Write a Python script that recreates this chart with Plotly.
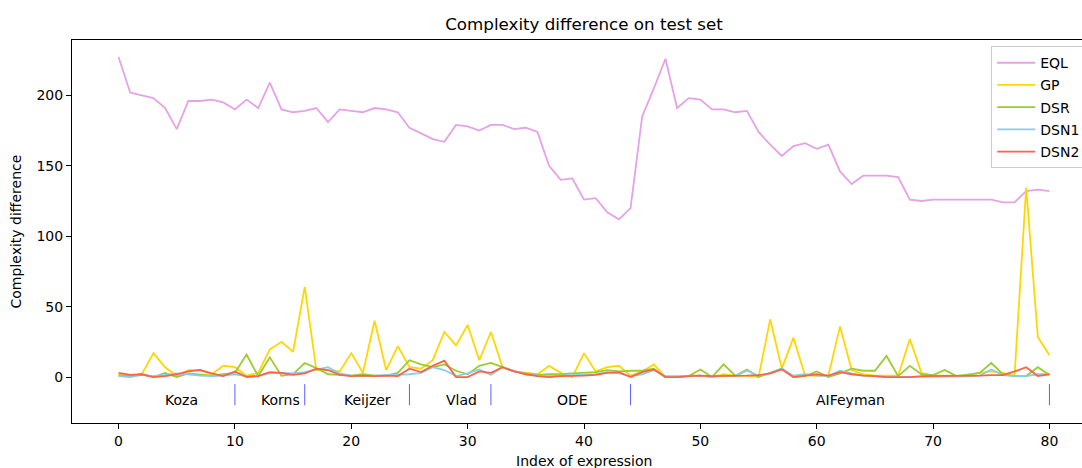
import plotly.graph_objects as go

idx = list(range(81))

eql = [227.2, 202, 200, 198, 191, 176, 196, 196, 197, 195,
       190, 197, 191, 209, 190, 188, 189, 191, 181, 190,
       189, 188, 191, 190, 188, 177, 173, 169, 167, 179,
       178, 175, 179, 179, 176, 177, 174, 150, 140, 141,
       126, 127, 117, 112, 120, 185, 205, 226, 191, 198,
       197, 190, 190, 188, 189, 174, 165, 157, 164, 166,
       162, 165, 146, 137, 143, 143, 143, 142, 126, 125,
       126, 126, 126, 126, 126, 126, 124, 124, 132, 133,
       132]

gp = [2, 1, 2, 17, 7, 1, 5, 5, 2, 8,
      7, 1, 3, 19.6, 25, 18, 64, 5, 5, 4,
      17, 3, 40, 5, 22, 7, 6, 12, 32, 22.5,
      37, 12, 32, 7, 4, 3, 2, 8, 3, 0,
      17, 4, 7, 8, 1, 4, 9, 0, 0, 1,
      1, 0, 2, 1, 1, 0, 41, 6, 28, 1,
      1, 1, 36, 5, 2, 1, 1, 1, 27, 3,
      1, 1, 1, 1, 3, 4, 3, 1, 134.5, 28.5,
      15.5]

dsr = [1.4, 0.7, 2, 0, 3, 0, 2.6, 1.6, 1, 2,
       3, 16, 0.7, 14, 1, 2, 10, 6.4, 2, 1.6,
       1, 2, 1, 1, 3, 12, 9, 7, 9, 4.5,
       2, 8, 10, 7, 4, 2.6, 1.6, 2, 2, 2.6,
       3, 3.5, 5, 4, 4.5, 4.5, 6, 0, 0, 0.7,
       5.4, 0, 9, 1, 5.4, 0, 3, 6, 0, 0.7,
       4, 0, 2.6, 6, 4.5, 4.5, 15, 0.7, 8, 2,
       1.4, 5, 0.7, 2, 3, 10, 2, 0.7, 0.7, 7,
       1.4]

dsn1 = [0.7, 0, 1.6, 0.7, 1.6, 2.6, 2, 1, 0.7, 1,
        2, 0.7, 1, 2.6, 3, 2.6, 3.5, 5.4, 7, 2.6,
        1, 0.7, 1, 1, 1.6, 2, 3, 7, 5, 0.7,
        2.6, 5.4, 1.6, 7, 4.5, 2, 1, 0.7, 1, 1.4,
        1.6, 2, 3.5, 2.6, 0.7, 2, 5, 0.7, 0.7, 1,
        1, 0, 1, 0.7, 4.5, 1, 2.6, 6, 1, 2,
        1, 0.7, 4.5, 2.6, 1, 0.7, 0, 0, 0, 0.5,
        0.5, 0.5, 0.5, 0.5, 1, 5.4, 1.4, 0.7, 0.7, 2,
        2]

dsn2 = [3, 1.6, 2, 0, 0.7, 2, 4, 5, 2.6, 0.7,
        4, 0, 0.7, 3.5, 3, 1.6, 2.6, 6, 5, 1.6,
        0.7, 1, 0.7, 1, 0.7, 6, 3.5, 8, 11.6, 0,
        0, 4, 3, 7, 4, 2, 0.7, 0, 0.7, 0.7,
        1, 1.6, 3, 3.5, 0, 3.5, 5.4, 0, 0, 0.7,
        1, 0.7, 0.7, 0.7, 1, 1.4, 2.6, 5.4, 0, 1,
        2, 1, 3.5, 2, 1, 0.7, 0, 0, 0, 0.7,
        0.7, 0.7, 0.7, 1, 1, 1.4, 1.4, 4, 7, 0.7,
        2]

series_names = ["EQL", "GP", "DSR", "DSN1", "DSN2"]
series_colors = ["#e6a2e6", "gold", "yellowgreen", "skyblue", "tomato"]

boundaries = [10, 16, 25, 32, 44, 80]
group_labels = ["Koza", "Korns", "Keijzer", "Vlad", "ODE", "AIFeyman"]
group_label_x = [5.4, 13.95, 21.4, 29.45, 39.0, 62.9]
marker_low, marker_high = -20, -5
label_y = -16.3

yticks = [0, 50, 100, 150, 200]
xticks = [0, 10, 20, 30, 40, 50, 60, 70, 80]

FONT = "DejaVu Sans"

fig = go.Figure()
for i, (name, vals, col) in enumerate(zip(series_names, [eql, gp, dsr, dsn1, dsn2], series_colors)):
    fig.add_trace(go.Scatter(x=idx, y=vals, mode="lines", name=name,
                             line=dict(color=col, width=1.8),
                             legendgroup=name))

# group boundary markers
vx, vy = [], []
for b in boundaries:
    vx += [b, b, None]
    vy += [marker_low, marker_high, None]
fig.add_trace(go.Scatter(x=vx, y=vy, mode="lines", showlegend=False,
                         line=dict(color="rgba(40,40,255,0.75)", width=1),
                         hoverinfo="skip"))

annotations = []
for lab, lx in zip(group_labels, group_label_x):
    annotations.append(dict(x=lx, y=label_y, xref="x", yref="y", text=lab,
                            showarrow=False, xanchor="center", yanchor="middle",
                            font=dict(family=FONT, size=14, color="black")))

annotations.append(dict(x=0.5, y=-0.1002, xref="paper", yref="paper",
                        text="Index of expression", showarrow=False,
                        xanchor="center", yanchor="middle",
                        font=dict(family=FONT, size=14, color="black")))
annotations.append(dict(x=-0.0547, y=0.5, xref="paper", yref="paper",
                        text="Complexity difference", showarrow=False, textangle=-90,
                        xanchor="center", yanchor="middle",
                        font=dict(family=FONT, size=14, color="black")))

fig.update_layout(
    width=1100, height=468,
    margin=dict(l=72, r=3.5, t=40, b=44.7),
    paper_bgcolor="white", plot_bgcolor="white",
    font=dict(family=FONT, size=14, color="black"),
    title=dict(text="Complexity difference on test set", x=0.5, xref="paper",
               xanchor="center", y=1 - 24 / 468, yref="container", yanchor="middle",
               font=dict(family=FONT, size=16.7, color="black")),
    xaxis=dict(range=[-4, 84], tickvals=xticks, ticks="outside", ticklen=5,
               tickwidth=1, tickcolor="black", showline=True, linecolor="black",
               linewidth=1, mirror=True, showgrid=False, zeroline=False,
               tickfont=dict(family=FONT, size=14, color="black")),
    yaxis=dict(range=[-32.6, 239.3], tickvals=yticks, ticks="outside", ticklen=5,
               tickwidth=1, tickcolor="black", showline=True, linecolor="black",
               linewidth=1, mirror=True, showgrid=False, zeroline=False,
               tickfont=dict(family=FONT, size=14, color="black")),
    legend=dict(x=0.8977, y=0.984, xanchor="left", yanchor="top",
                bgcolor="rgba(255,255,255,0.8)", bordercolor="#cccccc", borderwidth=1,
                font=dict(family=FONT, size=14, color="black"),
                tracegroupgap=1, itemwidth=38),
    annotations=annotations,
    showlegend=True,
)

fig.write_html("out.html",
               post_script="document.documentElement.style.overflow='hidden';"
                           "document.body.style.overflow='hidden';")
